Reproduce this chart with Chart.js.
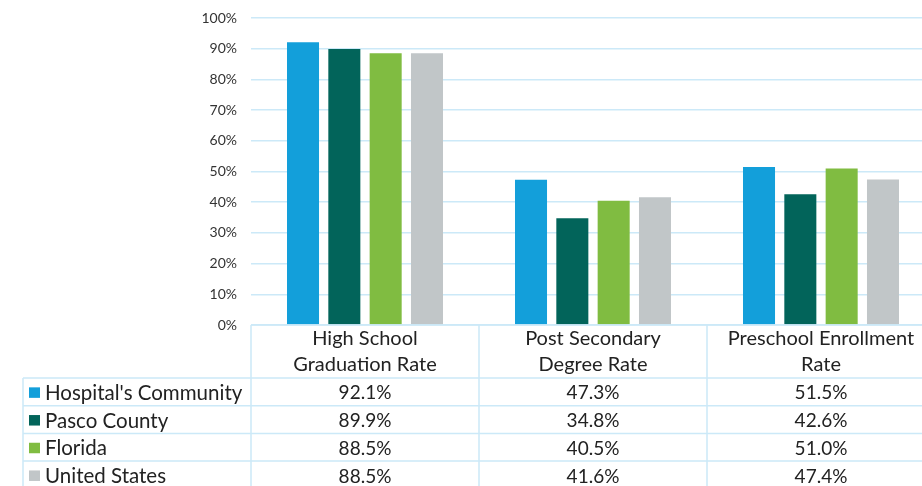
<!DOCTYPE html>
<html>
<head>
<meta charset="utf-8">
<script src="https://cdn.jsdelivr.net/npm/chart.js@4.4.0/dist/chart.umd.min.js"></script>
<style>
  html, body { margin: 0; padding: 0; background: #fff; overflow: hidden; }
  #wrap { width: 936px; height: 486px; }
</style>
</head>
<body>
<div id="wrap"><canvas id="chart" width="936" height="486"></canvas></div>
<script>
// categories (two-line headers in the table)
var categories = [
  ['High School', 'Graduation Rate'],
  ['Post Secondary', 'Degree Rate'],
  ['Preschool Enrollment', 'Rate']
];
var seriesNames = ["Hospital's Community", 'Pasco County', 'Florida', 'United States'];
var hospitalValues = [92.1, 47.3, 51.5];
var pascoValues = [89.9, 34.8, 42.6];
var floridaValues = [88.5, 40.5, 51.0];
var usValues = [88.5, 41.6, 47.4];
var yTicks = [0, 10, 20, 30, 40, 50, 60, 70, 80, 90, 100];

var colors = ['#139fda', '#02645a', '#80bc41', '#c1c6c8'];
var lineColor = '#cce9f8';
var fontFam = 'Lato, "Open Sans", sans-serif';

var allValues = [hospitalValues, pascoValues, floridaValues, usValues];

// draws the data table under the bars
var tablePlugin = {
  id: 'dataTable',
  afterDraw: function(chart) {
    var ctx = chart.ctx;
    var area = chart.chartArea;
    var xs = chart.scales.x;
    var colW = (area.right - area.left) / categories.length;
    var top = area.bottom;
    var headerBottom = top + 53;
    var rowH = 27.7;
    var legendLeft = 23;
    var right = chart.width;

    ctx.save();
    ctx.strokeStyle = lineColor;
    ctx.lineWidth = 1.5;

    // horizontal lines
    ctx.beginPath();
    ctx.moveTo(area.left, top); ctx.lineTo(right, top);
    var y = headerBottom;
    ctx.moveTo(legendLeft, y); ctx.lineTo(right, y);
    for (var r = 0; r < seriesNames.length; r++) {
      y += rowH;
      ctx.moveTo(legendLeft, y); ctx.lineTo(right, y);
    }
    // vertical lines
    for (var c = 0; c <= categories.length; c++) {
      var x = area.left + c * colW;
      ctx.moveTo(x, top); ctx.lineTo(x, y);
    }
    ctx.moveTo(legendLeft, headerBottom); ctx.lineTo(legendLeft, y);
    ctx.stroke();

    ctx.fillStyle = '#222';
    ctx.font = '20px ' + fontFam;
    ctx.textAlign = 'center';
    ctx.textBaseline = 'middle';
    categories.forEach(function(lines, i) {
      var cx = xs.getPixelForValue(i);
      ctx.fillText(lines[0], cx, top + 14);
      ctx.fillText(lines[1], cx, top + 39.5);
    });

    seriesNames.forEach(function(name, s) {
      var cy = headerBottom + s * rowH + rowH / 2 + 1.5;
      ctx.fillStyle = colors[s];
      ctx.fillRect(29, cy - 6, 11, 10.5);
      ctx.fillStyle = '#222';
      ctx.textAlign = 'left';
      ctx.font = '20.5px ' + fontFam;
      ctx.fillText(name, 45, cy);
      ctx.textAlign = 'center';
      ctx.font = '19px ' + fontFam;
      allValues[s].forEach(function(v, i) {
        ctx.fillText(v.toFixed(1) + '%', xs.getPixelForValue(i), cy);
      });
    });
    ctx.restore();
  }
};

var datasets = seriesNames.map(function(name, s) {
  return {
    label: name,
    data: allValues[s],
    backgroundColor: colors[s],
    categoryPercentage: 0.725,
    barPercentage: 0.775
  };
});

new Chart(document.getElementById('chart').getContext('2d'), {
  type: 'bar',
  data: {
    labels: categories.map(function(c) { return c.join(' '); }),
    datasets: datasets
  },
  options: {
    responsive: false,
    animation: false,
    layout: { padding: { top: 18, bottom: 161, left: 0, right: 1 } },
    plugins: { legend: { display: false }, tooltip: { enabled: false } },
    scales: {
      x: { display: false },
      y: {
        min: 0,
        max: 100,
        afterBuildTicks: function(scale) {
          scale.ticks = yTicks.map(function(v) { return { value: v }; });
        },
        afterFit: function(scale) {
          scale.width = 251;
          scale.paddingTop = 0;
          scale.paddingBottom = 0;
        },
        grid: { color: lineColor, lineWidth: 1.5, drawTicks: false },
        border: { display: false },
        ticks: {
          padding: 14,
          color: '#333',
          font: { family: fontFam, size: 14 },
          callback: function(v) { return v + '%'; }
        }
      }
    }
  },
  plugins: [tablePlugin]
});
</script>
</body>
</html>
